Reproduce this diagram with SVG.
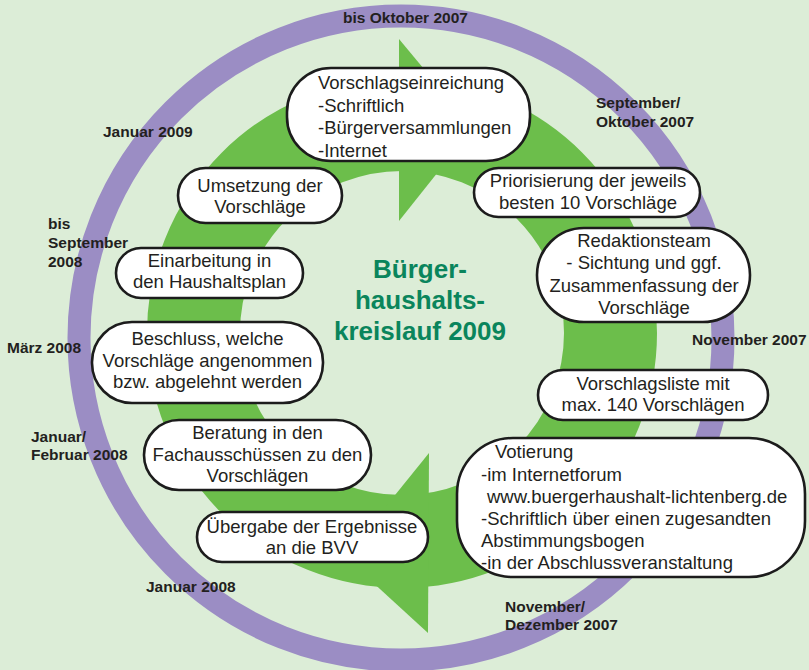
<svg xmlns="http://www.w3.org/2000/svg" width="809" height="670" viewBox="0 0 809 670">
<defs>
<style>
.bg{fill:#dcedd7}
.box{fill:#ffffff;stroke:#1c1c1c;stroke-width:2.6}
.t{font-family:"Liberation Sans",Arial,sans-serif;font-size:18.5px;fill:#231f20}
.c{text-anchor:middle}
.lbl{font-family:"Liberation Sans",Arial,sans-serif;font-size:15.5px;font-weight:bold;fill:#231f20}
.title{font-family:"Liberation Sans",Arial,sans-serif;font-size:26px;font-weight:bold;fill:#0a855c;text-anchor:middle}
.green{fill:#6cbe4b}
</style>
</defs>
<rect class="bg" x="0" y="0" width="809" height="670"/>
<circle cx="401" cy="338" r="322" fill="none" stroke="#9b8dc4" stroke-width="23"/>
<g id="cycle">
<circle cx="402" cy="333" r="208.5" fill="none" stroke="#6cbe4b" stroke-width="93"/>
<polygon class="green" points="399,39 473,128 399,221"/>
<polygon class="green" points="429,453 345,557 428,633"/>
</g>
<g id="connectors"></g>
<g id="title">
<text class="title" x="420" y="278">Bürger-</text>
<text class="title" x="420" y="309">haushalts-</text>
<text class="title" x="420" y="340">kreislauf 2009</text>
</g>
<g id="n1">
<rect class="box" x="287" y="68" width="243" height="93" rx="44"/>
<text class="t" x="318" y="89">Vorschlagseinreichung</text>
<text class="t" x="318" y="112">-Schriftlich</text>
<text class="t" x="318" y="134">-Bürgerversammlungen</text>
<text class="t" x="318" y="157">-Internet</text>
</g>
<g id="n2">
<rect class="box" x="474" y="168" width="226" height="49" rx="24.5"/>
<text class="t c" x="588" y="187">Priorisierung der jeweils</text>
<text class="t c" x="588" y="209">besten 10 Vorschläge</text>
</g>
<g id="n3">
<rect class="box" x="537" y="228" width="213" height="94" rx="47"/>
<text class="t c" x="644" y="247">Redaktionsteam</text>
<text class="t c" x="644" y="269">- Sichtung und ggf.</text>
<text class="t c" x="644" y="292">Zusammenfassung der</text>
<text class="t c" x="644" y="314">Vorschläge</text>
</g>
<g id="n4">
<rect class="box" x="538" y="370" width="230" height="50" rx="25"/>
<text class="t c" x="653" y="390">Vorschlagsliste mit</text>
<text class="t c" x="653" y="411">max. 140 Vorschlägen</text>
</g>
<g id="n5">
<rect class="box" x="457" y="438" width="348" height="139" rx="56"/>
<text class="t" x="495" y="458">Votierung</text>
<text class="t" x="481" y="481">-im Internetforum</text>
<text class="t" x="487" y="503">www.buergerhaushalt-lichtenberg.de</text>
<text class="t" x="481" y="525">-Schriftlich über einen zugesandten</text>
<text class="t" x="481" y="547">Abstimmungsbogen</text>
<text class="t" x="481" y="569">-in der Abschlussveranstaltung</text>
</g>
<g id="n6">
<rect class="box" x="197" y="512" width="231" height="50" rx="25"/>
<text class="t c" x="312" y="533">Übergabe der Ergebnisse</text>
<text class="t c" x="312" y="554">an die BVV</text>
</g>
<g id="n7">
<rect class="box" x="144" y="420" width="227" height="70" rx="35"/>
<text class="t c" x="257.5" y="439">Beratung in den</text>
<text class="t c" x="257.5" y="461">Fachausschüssen zu den</text>
<text class="t c" x="257.5" y="482">Vorschlägen</text>
</g>
<g id="n8">
<rect class="box" x="92" y="322" width="231" height="81" rx="40"/>
<text class="t c" x="207.5" y="345">Beschluss, welche</text>
<text class="t c" x="207.5" y="367">Vorschläge angenommen</text>
<text class="t c" x="207.5" y="388">bzw. abgelehnt werden</text>
</g>
<g id="n9">
<rect class="box" x="116" y="248" width="187" height="50" rx="25"/>
<text class="t c" x="209.5" y="267">Einarbeitung in</text>
<text class="t c" x="209.5" y="288">den Haushaltsplan</text>
</g>
<g id="n10">
<rect class="box" x="178" y="168" width="164" height="55" rx="27.5"/>
<text class="t c" x="260" y="192">Umsetzung der</text>
<text class="t c" x="260" y="213">Vorschläge</text>
</g>
<g id="labels">
<text class="lbl" x="343" y="23">bis Oktober 2007</text>
<text class="lbl" x="596" y="108">September/</text>
<text class="lbl" x="596" y="127">Oktober 2007</text>
<text class="lbl" x="692" y="345">November 2007</text>
<text class="lbl" x="505" y="612">November/</text>
<text class="lbl" x="505" y="630">Dezember 2007</text>
<text class="lbl" x="146" y="592">Januar 2008</text>
<text class="lbl" x="31" y="442">Januar/</text>
<text class="lbl" x="31" y="460">Februar 2008</text>
<text class="lbl" x="7" y="353">März 2008</text>
<text class="lbl" x="48" y="229">bis</text>
<text class="lbl" x="48" y="248">September</text>
<text class="lbl" x="48" y="267">2008</text>
<text class="lbl" x="103" y="137">Januar 2009</text>
</g>
</svg>
